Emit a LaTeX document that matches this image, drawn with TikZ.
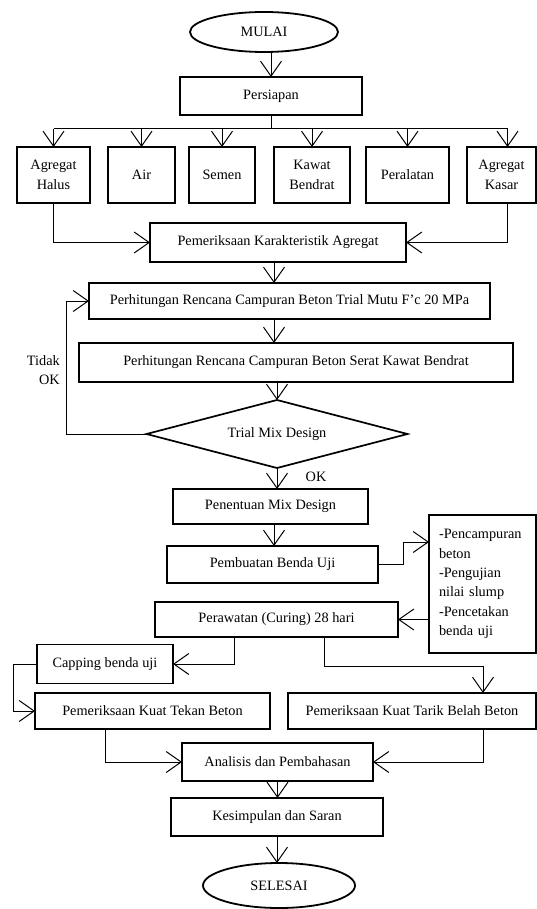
\documentclass[tikz,border=0pt]{standalone}
\usepackage{fontspec}
\setmainfont{Liberation Serif}
\usetikzlibrary{arrows.meta,shapes.geometric,calc}
\tikzset{
  box/.style={draw, line width=1.7pt, inner sep=0pt, outer sep=0pt, align=center},
  notebox/.style={draw, line width=1.5pt, inner xsep=10pt, inner ysep=0pt, outer sep=0pt, align=left},
  oval/.style={draw, ellipse, line width=1.8pt, inner sep=0pt, outer sep=0pt},
  dia/.style={draw, diamond, aspect=3.84, line width=1.7pt, inner sep=0pt, outer sep=0pt},
  conn/.style={line width=1pt},
  arr/.style={line width=1pt, -{Straight Barb[length=15pt,width=21pt,line width=1pt]}},
  lbl/.style={inner sep=0pt}
}
\begin{document}
\begin{tikzpicture}[x=1pt,y=-1pt,font=\fontsize{14.3}{19.3}\selectfont]
\useasboundingbox (0,0) rectangle (537,909);

% nodes
\node[oval, minimum width=148pt, minimum height=40pt] (mulai) at (264,32) {MULAI};
\node[box, minimum width=182pt, minimum height=38pt] (pers) at (271,96) {Persiapan};
\node[box, minimum width=73pt, minimum height=56pt] (ah) at (53.5,175) {Agregat\\Halus};
\node[box, minimum width=67pt, minimum height=56pt] (air) at (141.5,175) {Air};
\node[box, minimum width=66pt, minimum height=56pt] (sem) at (222,175) {Semen};
\node[box, minimum width=76pt, minimum height=56pt] (kaw) at (312,175) {Kawat\\Bendrat};
\node[box, minimum width=83pt, minimum height=56pt] (per) at (407.5,175) {Peralatan};
\node[box, minimum width=69pt, minimum height=56pt] (ak) at (501.5,175) {Agregat\\Kasar};
\node[box, minimum width=256pt, minimum height=39pt] (pk) at (278,242.5) {Pemeriksaan Karakteristik Agregat};
\node[box, minimum width=401pt, minimum height=36pt] (trial) at (289.5,301) {Perhitungan Rencana Campuran Beton Trial Mutu F’c 20 MPa};
\node[box, minimum width=434pt, minimum height=39pt] (serat) at (296,362.5) {Perhitungan Rencana Campuran Beton Serat Kawat Bendrat};
\node[dia, minimum width=261pt, minimum height=68pt] (dm) at (277,434) {Trial Mix Design};
\node[box, minimum width=195pt, minimum height=35pt] (pen) at (270.5,506.5) {Penentuan Mix Design};
\node[box, minimum width=211pt, minimum height=37pt] (pemb) at (272.5,564.5) {Pembuatan Benda Uji};
\node[notebox, minimum width=107pt, minimum height=138pt, text width=87pt] (notes) at (482.5,584) {-Pencampuran\\beton\\-Pengujian\\nilai slump\\-Pencetakan\\benda uji};
\node[box, minimum width=243pt, minimum height=35pt] (pera) at (276.5,619.5) {Perawatan (Curing) 28 hari};
\node[box, minimum width=136pt, minimum height=39pt] (cap) at (105,664) {Capping benda uji};
\node[box, minimum width=235pt, minimum height=36pt] (tekan) at (152.5,711) {Pemeriksaan Kuat Tekan Beton};
\node[box, minimum width=248pt, minimum height=36pt] (tarik) at (412,711) {Pemeriksaan Kuat Tarik Belah Beton};
\node[box, minimum width=191pt, minimum height=38pt] (anal) at (277.5,762) {Analisis dan Pembahasan};
\node[box, minimum width=212pt, minimum height=38pt] (kes) at (277,817) {Kesimpulan dan Saran};
\node[oval, minimum width=152pt, minimum height=45pt] (sel) at (279,885.5) {SELESAI};

% labels
\node[lbl, anchor=east, align=right] (tidak) at (60,370) {Tidak\\OK};
\node[lbl] (ok) at (316,477) {OK};

% helper coordinates
\coordinate (dist) at (271,129);
\coordinate (sp) at (274,0);

% connectors
\draw[arr] (mulai.south -| pers.north) -- (pers.north);
\draw[conn] (pers.south) -- (dist);
\draw[conn] (ah.north |- dist) -- ($(ak.north |- dist)+(6,0)$);
\draw[arr] (ah.north |- dist) -- (ah.north);
\draw[arr] (air.north |- dist) -- (air.north);
\draw[arr] (sem.north |- dist) -- (sem.north);
\draw[arr] (kaw.north |- dist) -- (kaw.north);
\draw[arr] (per.north |- dist) -- (per.north);
\draw[arr] ($(ak.north |- dist)+(6,0)$) -- ($(ak.north)+(6,0)$);

\draw[arr] (ah.south) |- (pk.west);
\draw[arr] ($(ak.south)+(6,0)$) |- (pk.east);

\draw[arr] (sp |- pk.south) -- (sp |- trial.north);
\draw[arr] (sp |- trial.south) -- (sp |- serat.north);
\draw[arr] (dm.north |- serat.south) -- (dm.north);
\draw[arr] (dm.west) -- ++(-80,0) |- (trial.west);
\draw[arr] (dm.south) -- (dm.south |- pen.north);
\draw[arr] (sp |- pen.south) -- (sp |- pemb.north);
\draw[arr] (pemb.east) -- ++(25,0) |- ($(notes.west)+(0,-42)$);
\draw[line width=1.6pt, -{Straight Barb[length=15pt,width=21pt,line width=1pt]}] (notes.west |- pera.east) -- (pera.east);
\draw[arr] ($(pera.south)+(-42.5,0)$) |- (cap.east);
\draw[arr] ($(pera.south)+(47.5,0)$) -- ++(0,29) -| ($(tarik.north)+(71,0)$);
\draw[arr] (cap.west) -- ++(-24,0) |- (tekan.west);
\draw[arr] ($(tekan.south)+(-47.5,0)$) |- (anal.west);
\draw[arr] ($(tarik.south)+(71,0)$) |- (anal.east);
\draw[arr] (anal.south) -- (anal.south |- kes.north);
\draw[arr] (kes.south) -- (kes.south |- sel.north);
\end{tikzpicture}
\end{document}
